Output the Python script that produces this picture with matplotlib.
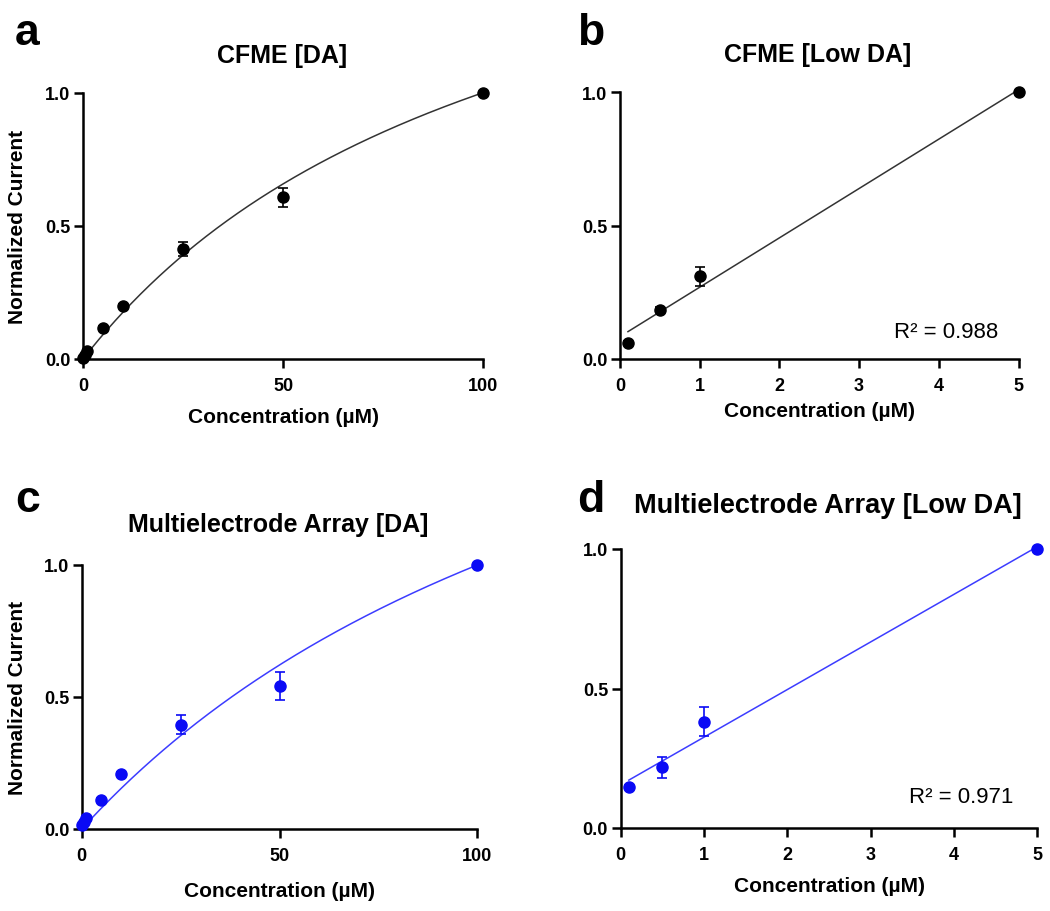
import matplotlib
matplotlib.use('Agg')
import matplotlib.pyplot as plt
import numpy as np

plt.rcParams['font.family'] = ['Liberation Sans', 'DejaVu Sans']

# 数据
conc_full = [0.1, 0.5, 1, 5, 10, 25, 50, 100]
cfme_full = [0.005, 0.015, 0.03, 0.117, 0.20, 0.413, 0.607, 1.0]
cfme_full_err = [0.003, 0.004, 0.005, 0.006, 0.008, 0.027, 0.037, 0.0]
mea_full = [0.015, 0.025, 0.04, 0.11, 0.207, 0.395, 0.54, 1.0]
mea_full_err = [0.003, 0.004, 0.005, 0.006, 0.008, 0.035, 0.053, 0.0]

conc_low = [0.1, 0.5, 1, 5]
cfme_low = [0.061, 0.185, 0.31, 1.0]
cfme_low_err = [0.005, 0.008, 0.035, 0.0]
mea_low = [0.148, 0.217, 0.38, 1.0]
mea_low_err = [0.006, 0.038, 0.052, 0.0]

r2_labels = ['R² = 0.988', 'R² = 0.971']
titles = ['CFME [DA]', 'CFME [Low DA]', 'Multielectrode Array [DA]', 'Multielectrode Array [Low DA]']
letters = ['a', 'b', 'c', 'd']

W, H = 1050, 912


def hyperbola_fit(x, y):
    # y = Bmax*x/(K+x)，曲线过归一化点(最后一点)，网格搜索K
    x = np.asarray(x, float)
    y = np.asarray(y, float)
    xn, yn = x[-1], y[-1]
    best = None
    for k in np.linspace(1, 1000, 4000):
        b = yn * (k + xn) / xn
        ss = np.sum((y - b * x / (k + x)) ** 2)
        if best is None or ss < best[0]:
            best = (ss, b, k)
    return best[1], best[2]


def setup(ax, xmax, xticks):
    ax.set_xlim(0, xmax)
    ax.set_ylim(0, 1)
    ax.set_xticks(xticks)
    ax.set_yticks([0, 0.5, 1.0])
    ax.set_yticklabels(['0.0', '0.5', '1.0'])
    for s in ['top', 'right']:
        ax.spines[s].set_visible(False)
    for s in ['left', 'bottom']:
        ax.spines[s].set_linewidth(1.8)
    ax.tick_params(axis='both', length=6.5, width=1.8, labelsize=13)
    ax.tick_params(axis='x', pad=6.5)
    ax.tick_params(axis='y', pad=2.5)
    for lab in ax.get_xticklabels() + ax.get_yticklabels():
        lab.set_fontweight('bold')


def points(ax, x, y, err, color):
    ax.errorbar(x, y, yerr=err, fmt='o', color=color, ms=8, elinewidth=1.2,
                capsize=3.6, capthick=1.2, clip_on=False, zorder=3)


fig = plt.figure(figsize=(W / 100, H / 100), dpi=100)

pos = {
    'a': [83 / W, 1 - 360 / H, 400 / W, 266.3 / H],
    'b': [620 / W, 1 - 360 / H, 398.5 / W, 267 / H],
    'c': [81.7 / W, 1 - 830 / H, 395.6 / W, 264 / H],
    'd': [620.5 / W, 1 - 829 / H, 416.8 / W, 279 / H],
}

black, black_line = '#000000', '#333333'
blue, blue_line = '#0a0af5', '#3c3cff'

# a
ax = fig.add_axes(pos['a'])
setup(ax, 100, [0, 50, 100])
bm, km = hyperbola_fit(conc_full, cfme_full)
xs = np.linspace(0, 100, 300)
ax.plot(xs, bm * xs / (km + xs), color=black_line, lw=1.1, clip_on=False)
points(ax, conc_full, cfme_full, cfme_full_err, black)

# b
ax = fig.add_axes(pos['b'])
setup(ax, 5, [0, 1, 2, 3, 4, 5])
p = np.polyfit(conc_low, cfme_low, 1)
xs = np.linspace(min(conc_low), max(conc_low), 50)
ax.plot(xs, np.polyval(p, xs), color=black_line, lw=1.1, clip_on=False)
points(ax, conc_low, cfme_low, cfme_low_err, black)

# c
ax = fig.add_axes(pos['c'])
setup(ax, 100, [0, 50, 100])
bm, km = hyperbola_fit(conc_full, mea_full)
xs = np.linspace(0, 100, 300)
ax.plot(xs, bm * xs / (km + xs), color=blue_line, lw=1.1, clip_on=False)
points(ax, conc_full, mea_full, mea_full_err, blue)

# d
ax = fig.add_axes(pos['d'])
setup(ax, 5, [0, 1, 2, 3, 4, 5])
p = np.polyfit(conc_low, mea_low, 1)
xs = np.linspace(min(conc_low), max(conc_low), 50)
ax.plot(xs, np.polyval(p, xs), color=blue_line, lw=1.1, clip_on=False)
points(ax, conc_low, mea_low, mea_low_err, blue)

# 文字
letter_xy = [(15, 45), (577, 45), (15, 512), (577, 512)]
for t, (x, y) in zip(letters, letter_xy):
    fig.text(x / W, 1 - y / H, t, fontsize=32, fontweight='bold', ha='left', va='baseline')

title_xy = [(281.7, 63), (818, 61.7), (278.5, 531.7), (828.3, 513.3)]
title_size = [18, 18, 18, 19.5]
for t, (x, y), fs in zip(titles, title_xy, title_size):
    fig.text(x / W, 1 - y / H, t, fontsize=fs, fontweight='bold', ha='center', va='baseline')

xlabel_xy = [(283, 418), (819, 412), (279.5, 892), (829, 887)]
for x, y in xlabel_xy:
    fig.text(x / W, 1 - y / H, 'Concentration (µM)', fontsize=15, fontweight='bold',
             ha='center', va='center')

for y in [227, 698]:
    fig.text(18 / W, 1 - y / H, 'Normalized Current', fontsize=15, fontweight='bold',
             rotation=90, ha='center', va='center')

fig.text(946.5 / W, 1 - 332 / H, r2_labels[0], fontsize=16, ha='center', va='center')
fig.text(961 / W, 1 - 798 / H, r2_labels[1], fontsize=16, ha='center', va='center')

fig.savefig('out.png', dpi=100)
